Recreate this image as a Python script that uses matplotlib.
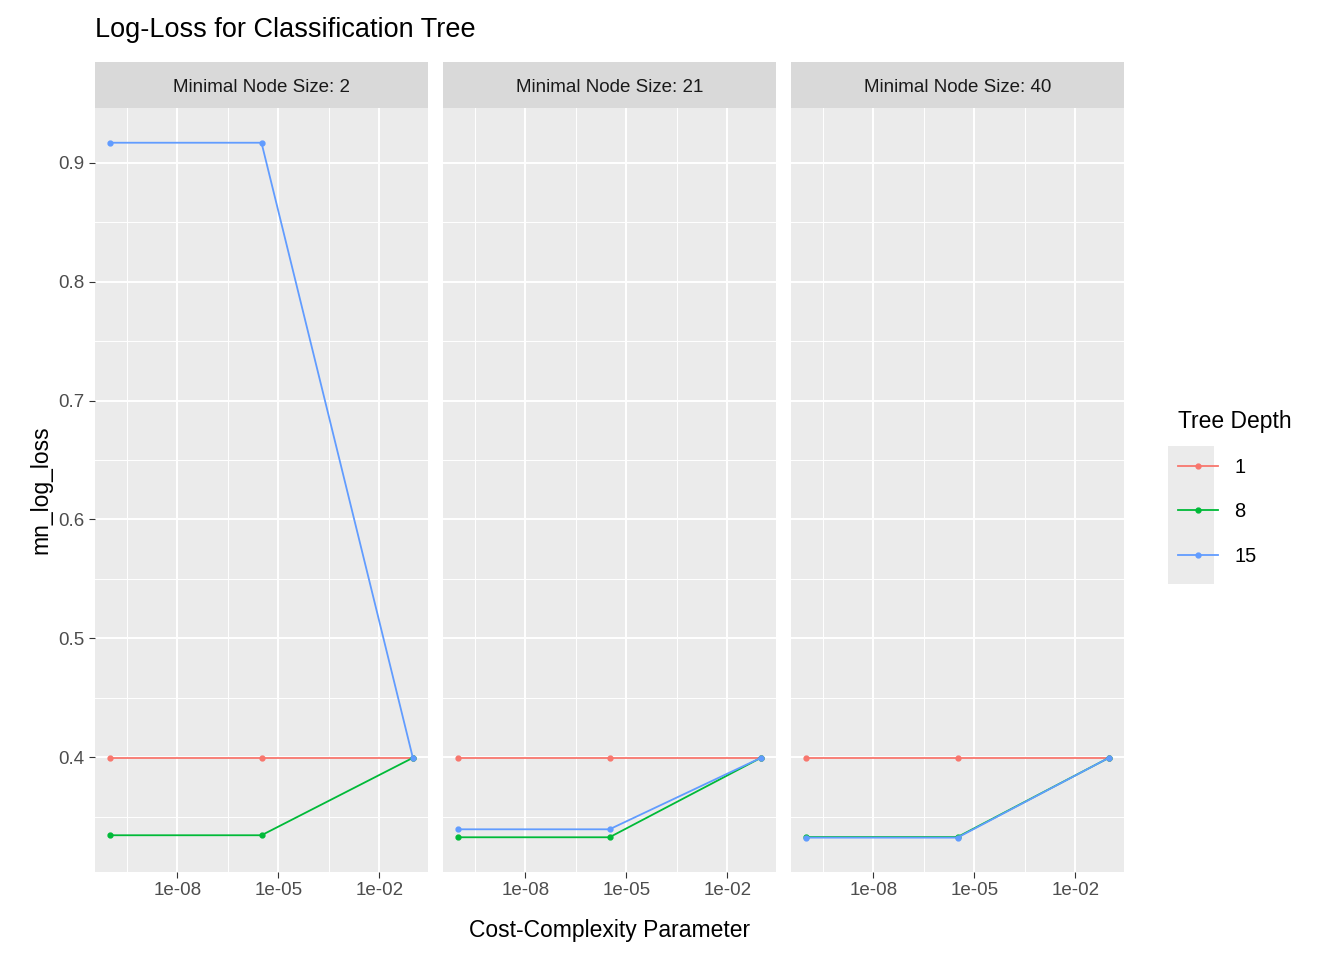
import numpy as np
import matplotlib.pyplot as plt
from matplotlib.ticker import FixedLocator, NullFormatter
from matplotlib.patches import Rectangle

plt.rcParams['font.family'] = ['Liberation Sans', 'DejaVu Sans']

# Datos
cost_complexity = [1e-10, 10 ** -5.5, 1e-1]
node_sizes = [2, 21, 40]
depths = [1, 8, 15]
colores = ["#F8766D", "#00BA38", "#619CFF"]

log_loss = {
    2: {1: [0.3996, 0.3996, 0.3996], 8: [0.3345, 0.3345, 0.3996], 15: [0.9168, 0.9168, 0.3996]},
    21: {1: [0.3996, 0.3996, 0.3996], 8: [0.3328, 0.3328, 0.3996], 15: [0.3395, 0.3395, 0.3996]},
    40: {1: [0.3996, 0.3996, 0.3996], 8: [0.3330, 0.3330, 0.3996], 15: [0.3325, 0.3325, 0.3996]},
}

fig = plt.figure(figsize=(13.44, 9.6), dpi=100)
W, H = 1344, 960
lefts = [95, 443, 791]
pw = 333
top, bottom = 108, 872
strip_h = 46

x_lo, x_hi = 10 ** -10.45, 10 ** -0.55
y_lo, y_hi = 0.3036, 0.946

for i, ns in enumerate(node_sizes):
    ax = fig.add_axes([lefts[i] / W, 1 - bottom / H, pw / W, (bottom - top) / H])
    ax.set_facecolor("#EBEBEB")
    for s in ax.spines.values():
        s.set_visible(False)
    ax.set_xscale("log")
    ax.set_xlim(x_lo, x_hi)
    ax.set_ylim(y_lo, y_hi)
    ax.xaxis.set_major_locator(FixedLocator([1e-8, 1e-5, 1e-2]))
    ax.xaxis.set_minor_locator(FixedLocator([10 ** -9.5, 10 ** -6.5, 10 ** -3.5]))
    ax.xaxis.set_minor_formatter(NullFormatter())
    ax.set_xticklabels(["1e-08", "1e-05", "1e-02"])
    ax.yaxis.set_major_locator(FixedLocator([0.4, 0.5, 0.6, 0.7, 0.8, 0.9]))
    ax.yaxis.set_minor_locator(FixedLocator([0.35, 0.45, 0.55, 0.65, 0.75, 0.85]))
    ax.grid(True, which="major", color="white", linewidth=1.4)
    ax.grid(True, which="minor", color="white", linewidth=0.7)
    ax.set_axisbelow(True)
    ax.tick_params(which="both", length=4, color="#333333", labelsize=13.5, labelcolor="#4D4D4D")
    ax.tick_params(which="minor", length=0)
    if i > 0:
        ax.set_yticklabels([])
        ax.tick_params(axis="y", length=0)
    for d, c in zip(depths, colores):
        ax.plot(cost_complexity, log_loss[ns][d], color=c, linewidth=1.3,
                marker="o", markersize=3.5, label=str(d))

    sax = fig.add_axes([lefts[i] / W, 1 - top / H, pw / W, strip_h / H])
    sax.set_facecolor("#D9D9D9")
    sax.set_xticks([])
    sax.set_yticks([])
    for s in sax.spines.values():
        s.set_visible(False)
    sax.text(0.5, 0.45, f"Minimal Node Size: {ns}", ha="center", va="center",
             fontsize=13.5, color="#1A1A1A", transform=sax.transAxes)
    if i == 0:
        ax.set_ylabel("mn_log_loss", fontsize=16.5, labelpad=4)
        handles, labels = ax.get_legend_handles_labels()

fig.text(95 / W, 1 - 30 / H, "Log-Loss for Classification Tree", fontsize=19.5, va="center")
fig.text(610 / W, 1 - 930 / H, "Cost-Complexity Parameter", fontsize=16.5, ha="center", va="center")

# fondo gris de las claves de la leyenda
fig.patches.append(Rectangle((1168 / W, 1 - 584 / H), 46 / W, 138 / H,
                             transform=fig.transFigure, facecolor="#EBEBEB",
                             edgecolor="none", zorder=0))

leg = fig.legend(handles, labels, title="Tree Depth", loc="upper left",
                 bbox_to_anchor=(1160 / W, 1 - 392 / H), frameon=False,
                 fontsize=14.5, title_fontsize=16.5, handlelength=2.0,
                 labelspacing=1.25, alignment="left")

fig.savefig("out.png", dpi=100)
